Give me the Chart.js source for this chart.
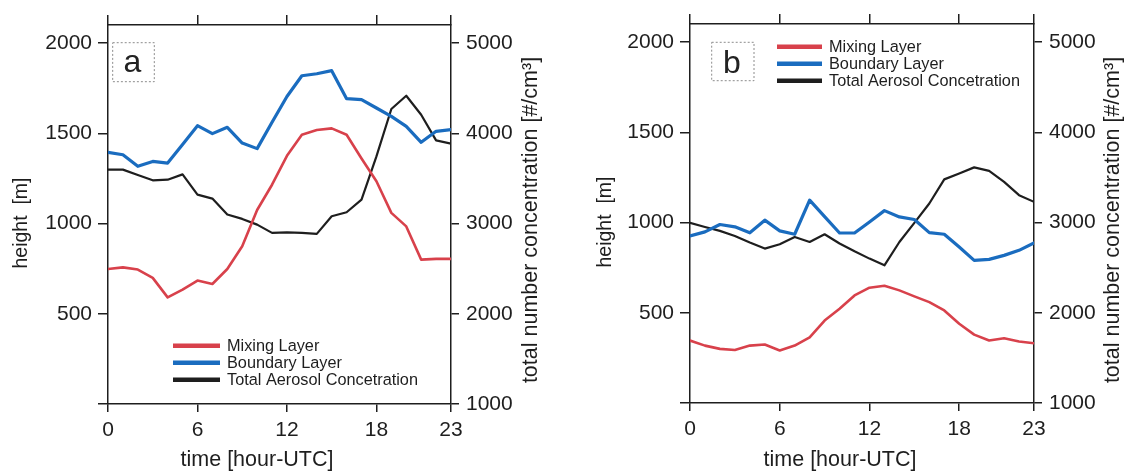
<!DOCTYPE html>
<html><head><meta charset="utf-8">
<script src="https://cdn.jsdelivr.net/npm/chart.js@4/dist/chart.umd.min.js"></script>
<style>
html,body{margin:0;padding:0;background:#fff;}
#wrap{position:relative;width:1136px;height:473px;overflow:hidden;}
.panel{position:absolute;top:0;width:568px;height:473px;}
</style></head><body>
<div id="wrap">
<div class="panel" style="left:0"><canvas id="ca"></canvas></div>
<div class="panel" style="left:568px"><canvas id="cb"></canvas></div>
</div>
<script>
const hours = [0,1,2,3,4,5,6,7,8,9,10,11,12,13,14,15,16,17,18,19,20,21,22,23];
const xTickValues = [0,6,12,18,23];
const heightTicks = [0,500,1000,1500,2000];
const concTicks = [1000,2000,3000,4000,5000];
const seriesLabels = ['Mixing Layer','Boundary Layer','Total Aerosol Concetration'];
const xTitle = 'time [hour-UTC]';
const yTitle = 'height  [m]';
const y2Title = 'total number concentration [#/cm³]';

const mixingA   = [748,757,745,699,591,634,684,665,748,874,1075,1215,1375,1492,1518,1527,1492,1360,1234,1059,984,800,804,804];
const boundaryA = [1394,1381,1317,1344,1335,1438,1542,1498,1533,1446,1415,1561,1704,1819,1830,1847,1692,1686,1640,1594,1538,1450,1511,1520];
const aerosolA  = [3597,3597,3538,3479,3486,3545,3320,3276,3100,3051,2988,2896,2903,2896,2885,3080,3125,3265,3744,4269,4416,4206,3921,3885];

const mixingB   = [346,318,300,294,318,324,291,318,364,457,522,596,639,650,624,591,559,513,439,379,346,359,341,331];
const boundaryB = [926,948,989,976,943,1013,954,935,1124,1033,942,942,1003,1066,1031,1017,944,935,864,790,796,818,846,887];
const aerosolB  = [2996,2951,2907,2851,2778,2711,2759,2840,2784,2870,2767,2681,2600,2526,2784,2996,3211,3478,3544,3611,3573,3451,3303,3229];

const RED = '#d8414b', BLUE = '#1a6cbf', BLACK = '#1e1e1e', AX = '#1e1e1e';
const FONT = '"Liberation Sans", Arial, Helvetica, sans-serif';

const deco = {
  id: 'deco',
  afterDraw(chart, args, o) {
    const ctx = chart.ctx, a = chart.chartArea;
    ctx.save();
    // panel letter box
    ctx.strokeStyle = '#8c8c8c'; ctx.lineWidth = 1; ctx.setLineDash([2, 2]);
    ctx.strokeRect(a.left + o.box[0], a.top + o.box[1], o.box[2], o.box[3]);
    ctx.setLineDash([]);
    ctx.fillStyle = '#222'; ctx.font = '32px ' + FONT;
    ctx.textAlign = 'center'; ctx.textBaseline = 'alphabetic';
    ctx.fillText(o.letter, a.left + o.letterPos[0], a.top + o.letterPos[1]);
    // legend
    ctx.font = '16.3px ' + FONT; ctx.textAlign = 'left'; ctx.textBaseline = 'middle';
    chart.data.datasets.forEach((ds, i) => {
      const y = a.top + o.leg.y + i * o.leg.dy;
      ctx.strokeStyle = ds.borderColor; ctx.lineWidth = 4.5; ctx.lineCap = 'butt';
      ctx.beginPath(); ctx.moveTo(a.left + o.leg.x1, y); ctx.lineTo(a.left + o.leg.x2, y); ctx.stroke();
      ctx.fillStyle = '#1e1e1e';
      ctx.fillText(ds.label, a.left + o.leg.tx, y + 1);
    });
    // axis titles
    ctx.fillStyle = '#1e1e1e';
    ctx.font = '21.5px ' + FONT; ctx.textAlign = 'center'; ctx.textBaseline = 'middle';
    ctx.fillText(xTitle, a.left + o.xTitlePos[0], o.xTitlePos[1]);
    ctx.save();
    ctx.translate(a.left - o.yTitleDx, o.yTitleY); ctx.rotate(-Math.PI / 2);
    ctx.font = '19.5px ' + FONT;
    ctx.fillText(yTitle, 0, 0);
    ctx.restore();
    ctx.save();
    ctx.translate(a.right + o.y2TitleDx, o.y2TitleY); ctx.rotate(-Math.PI / 2);
    ctx.font = '21.5px ' + FONT;
    ctx.fillText(y2Title, 0, 0);
    ctx.restore();
    ctx.restore();
  }
};

function makePanel(id, mix, bnd, aer, L, decoOpts) {
  const pts = arr => hours.map((h, i) => ({x: h, y: arr[i]}));
  const setTicks = vals => s => { s.ticks = vals.map(v => ({value: v})); };
  const tickFont = {family: FONT, size: 21};
  return new Chart(document.getElementById(id), {
    type: 'line',
    data: {
      datasets: [
        {label: seriesLabels[0], data: pts(mix), borderColor: RED, borderWidth: 2.6, yAxisID: 'y', xAxisID: 'x'},
        {label: seriesLabels[1], data: pts(bnd), borderColor: BLUE, borderWidth: 3.2, yAxisID: 'y', xAxisID: 'x'},
        {label: seriesLabels[2], data: pts(aer), borderColor: BLACK, borderWidth: 2.2, yAxisID: 'y2', xAxisID: 'x'}
      ]
    },
    options: {
      responsive: true, maintainAspectRatio: false, animation: false,
      layout: {padding: 0},
      elements: {point: {radius: 0, hoverRadius: 0}, line: {tension: 0, borderJoinStyle: 'round', borderCapStyle: 'round'}},
      plugins: {legend: {display: false}, tooltip: {enabled: false}, deco: decoOpts},
      events: [],
      scales: {
        x: {
          type: 'linear', position: 'bottom', min: 0, max: 23,
          afterBuildTicks: setTicks(xTickValues),
          ticks: {font: tickFont, color: '#1e1e1e', padding: 6, maxRotation: 0, autoSkip: false, callback: v => String(v)},
          grid: {drawOnChartArea: false, tickLength: 8, color: AX, lineWidth: 1.5},
          border: {color: AX, width: 1.5},
          afterFit: s => { s.height = L.bottomH; }
        },
        x2: {
          type: 'linear', position: 'top', min: 0, max: 23,
          afterBuildTicks: setTicks(xTickValues),
          ticks: {display: false},
          grid: {drawOnChartArea: false, tickLength: 10, color: AX, lineWidth: 1.5},
          border: {color: AX, width: 1.5},
          afterFit: s => { s.height = L.topH; }
        },
        y: {
          type: 'linear', position: 'left', min: 0, max: 2100,
          afterBuildTicks: setTicks(heightTicks),
          ticks: {font: tickFont, color: '#1e1e1e', padding: 6, callback: v => v === 0 ? '' : String(v)},
          grid: {drawOnChartArea: false, tickLength: 10, color: AX, lineWidth: 1.5},
          border: {color: AX, width: 1.5},
          afterFit: s => { s.width = L.leftW; }
        },
        y2: {
          type: 'linear', position: 'right', min: 1000, max: 5200,
          afterBuildTicks: setTicks(concTicks),
          ticks: {font: tickFont, color: '#1e1e1e', padding: 7, callback: v => String(v)},
          grid: {drawOnChartArea: false, tickLength: 8, color: AX, lineWidth: 1.5},
          border: {color: AX, width: 1.5},
          afterFit: s => { s.width = L.rightW; }
        }
      }
    },
    plugins: [deco]
  });
}

makePanel('ca', mixingA, boundaryA, aerosolA,
  {leftW: 108, rightW: 117, topH: 25, bottomH: 69},
  {letter: 'a', box: [4.7, 17.7, 41.6, 39], letterPos: [24.3, 46.7],
   leg: {x1: 65, x2: 112, tx: 119, y: 320.7, dy: 17},
   xTitlePos: [149, 460], yTitleDx: 86, yTitleY: 223, y2TitleDx: 80, y2TitleY: 220});

makePanel('cb', mixingB, boundaryB, aerosolB,
  {leftW: 122, rightW: 102, topH: 24, bottomH: 70},
  {letter: 'b', box: [21.7, 18.3, 42.3, 38.4], letterPos: [42, 49.3],
   leg: {x1: 87, x2: 132, tx: 139, y: 22.7, dy: 17},
   xTitlePos: [150, 460], yTitleDx: 84, yTitleY: 222, y2TitleDx: 79, y2TitleY: 220});
</script>
</body></html>
